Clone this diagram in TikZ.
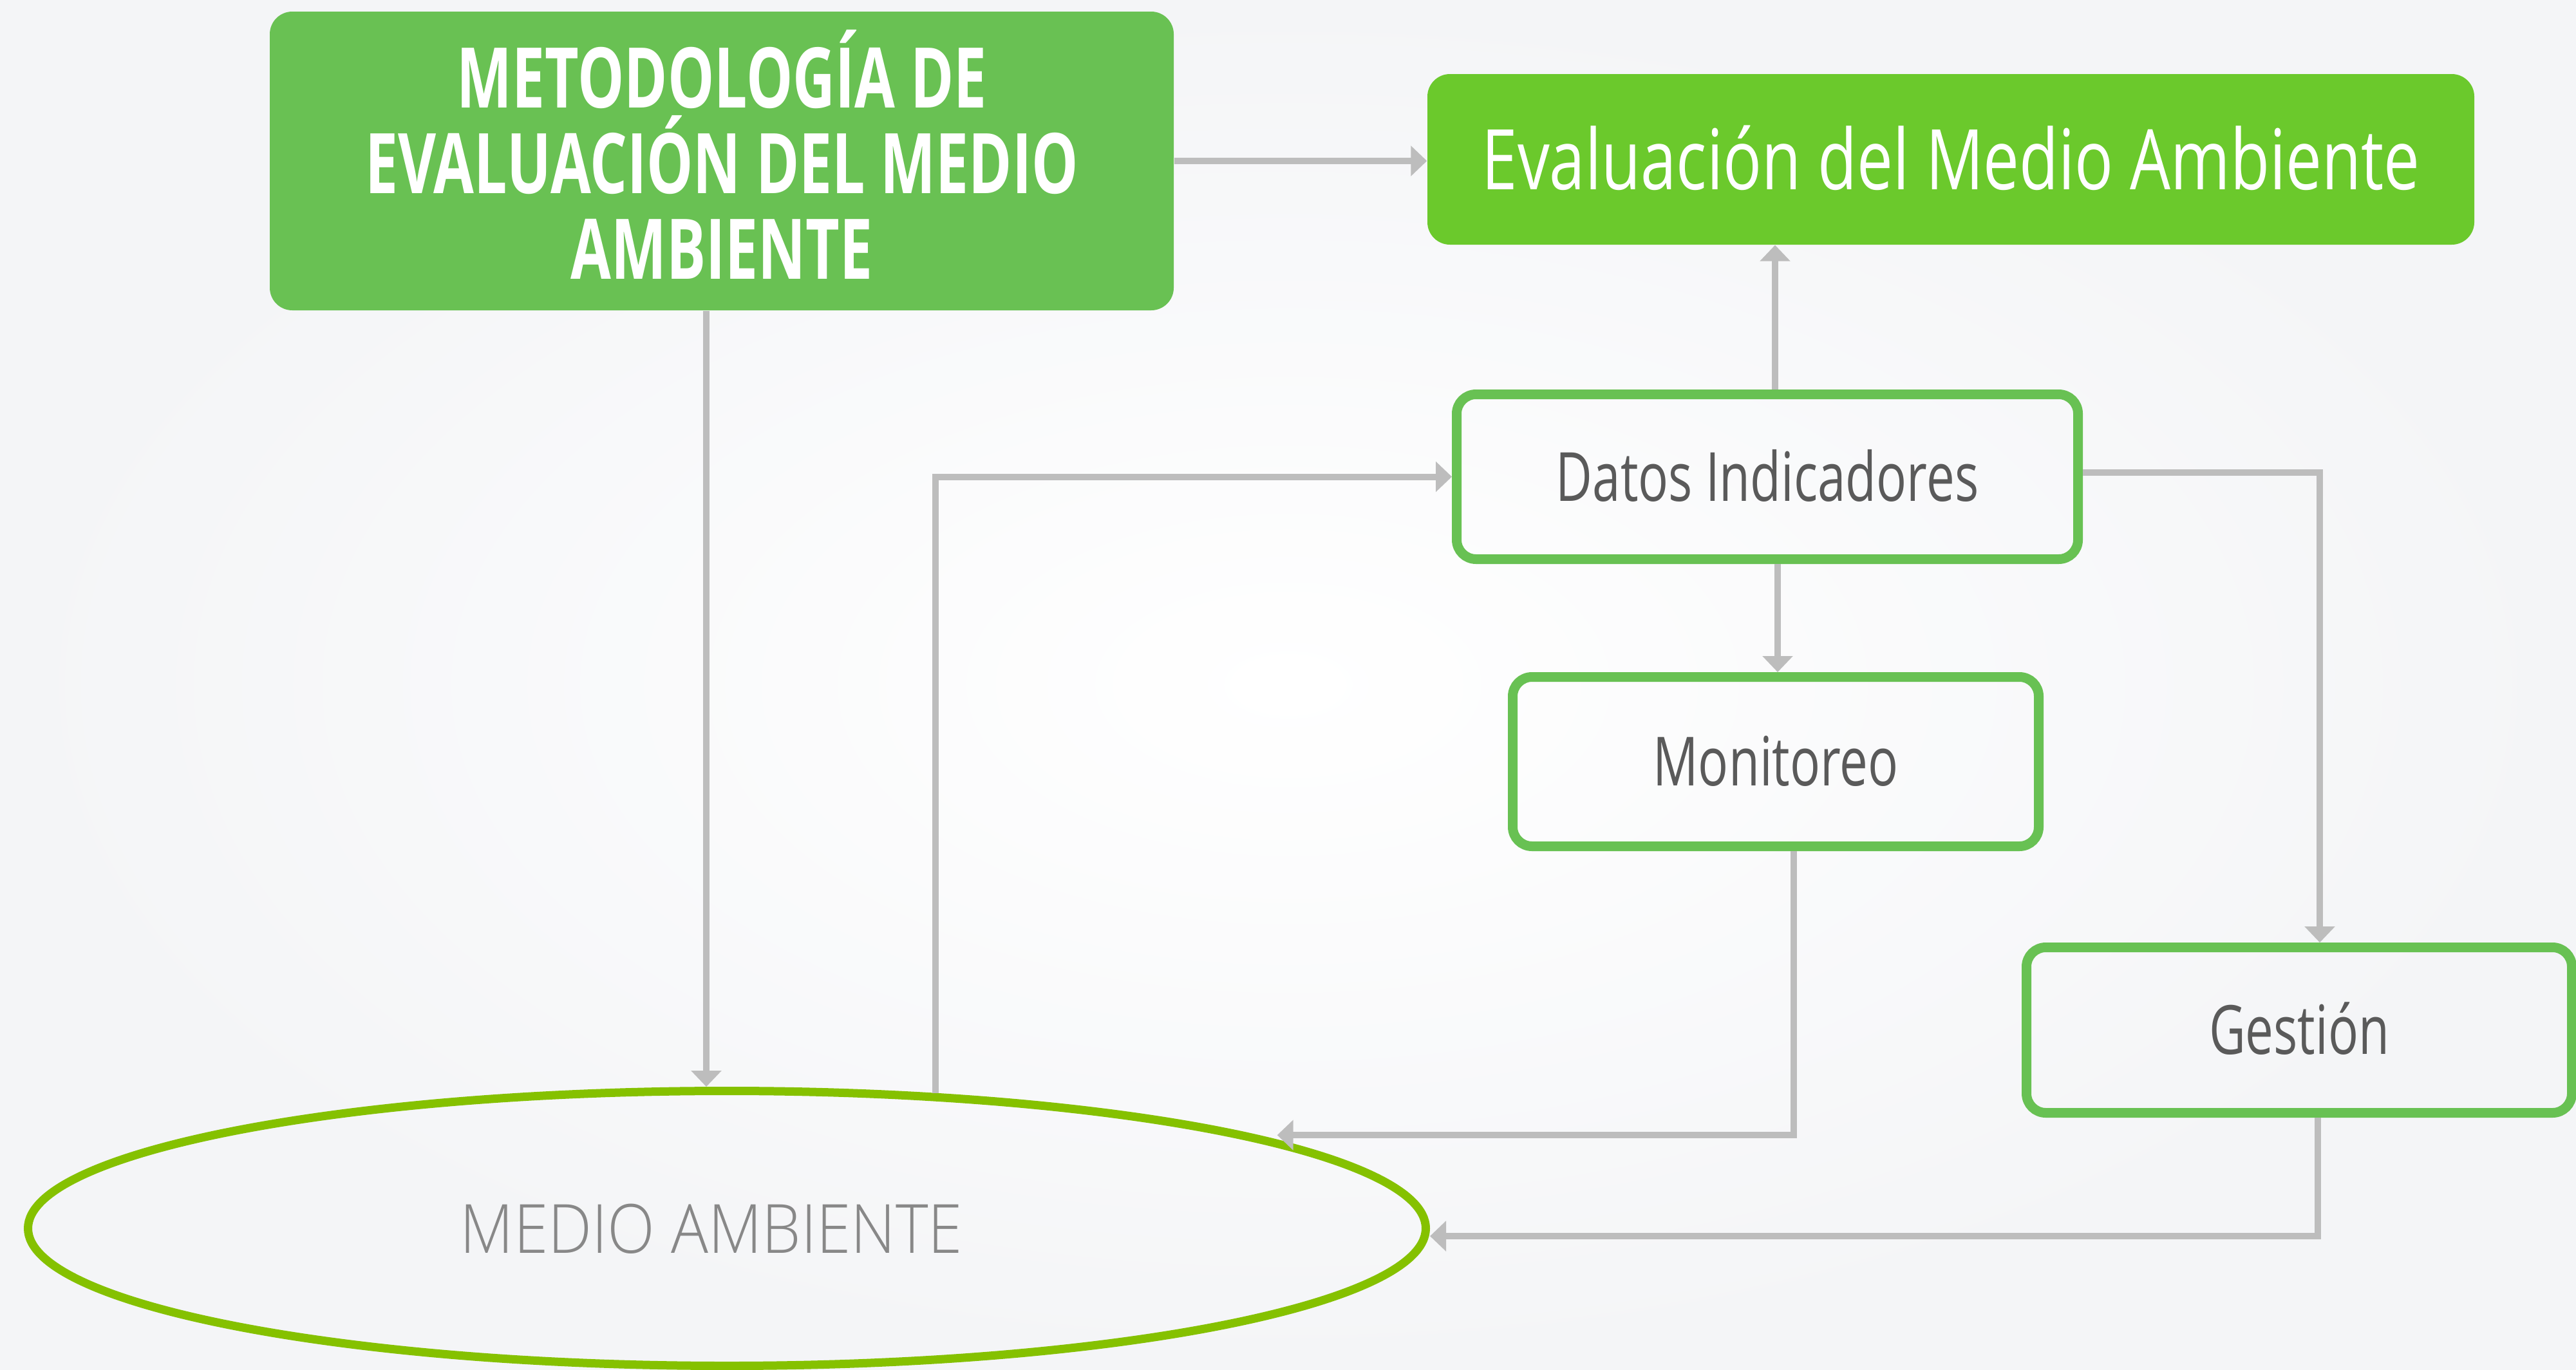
\documentclass[tikz,border=0pt]{standalone}
\usepackage{fontspec}
\setmainfont{Open Sans}
\newfontfamily\boxfont{Open Sans}[FakeStretch=0.74]
\newfontfamily\evalfont{Open Sans}[FakeStretch=0.765]
\newfontfamily\titlefont{Open Sans}[FakeStretch=0.70]
\newfontfamily\lightfont{Open Sans Light}[FakeStretch=0.915]
\usetikzlibrary{shapes.geometric,arrows.meta}

\definecolor{titlegreen}{HTML}{69C153}
\definecolor{evalgreen}{HTML}{6BC92C}
\definecolor{boxgreen}{HTML}{68C153}
\definecolor{ellgreen}{HTML}{85C100}
\definecolor{linegray}{HTML}{BDBDBD}
\definecolor{textgray}{HTML}{5A5A5A}
\definecolor{medgray}{HTML}{888888}
\definecolor{bggray}{HTML}{F4F5F7}

\begin{document}
\begin{tikzpicture}
        \tikzstyle{greenbox}=[rectangle, rounded corners=0.35cm, text=white]
        \tikzstyle{stepbox}=[rectangle, rounded corners=0.3cm, draw=boxgreen, line width=0.15cm,
            text=textgray, text height=0.75cm, text depth=0cm,
            font=\boxfont\fontsize{30pt}{36pt}\selectfont]
        \tikzstyle{link}=[draw=linegray, line width=0.1cm, -{Triangle[length=0.25cm,width=0.46cm]}]

        % fondo
        \shade[inner color=white, outer color=bggray] (0,0) rectangle (40.01,-21.27);
        \useasboundingbox (0,0) rectangle (40.01,-21.27);

        \node[greenbox, fill=titlegreen, minimum width=14.04cm, minimum height=4.64cm, align=center,
            font=\titlefont\bfseries\fontsize{37pt}{37.8pt}\selectfont] (metod) at (11.21,-2.50)
            {METODOLOGÍA DE\\EVALUACIÓN DEL MEDIO\\AMBIENTE\rule[-0.2cm]{0pt}{0pt}};
        \node[greenbox, fill=evalgreen, minimum width=16.26cm, minimum height=2.65cm,
            text height=0.93cm, text depth=0cm,
            font=\evalfont\fontsize{37pt}{44pt}\selectfont] (eval) at (30.30,-2.475)
            {Evaluación del Medio Ambiente};

        \node[stepbox, minimum width=9.65cm, minimum height=2.56cm] (datos) at (27.45,-7.405) {Datos Indicadores};
        \node[stepbox, minimum width=8.17cm, minimum height=2.63cm] (monit) at (27.58,-11.83) {Monitoreo};
        \node[stepbox, minimum width=8.47cm, minimum height=2.57cm] (gest) at (35.71,-16.00) {Gestión};

        \node[ellipse, draw=ellgreen, line width=0.13cm, minimum width=21.71cm, minimum height=4.27cm,
            text=medgray, text height=0.76cm, text depth=0cm,
            font=\lightfont\fontsize{30pt}{36pt}\selectfont] (medio) at (11.29,-19.08)
            {MEDIO AMBIENTE\hspace*{0.48cm}};

        % conectores
        \coordinate (m1) at ([xshift=-0.24cm]metod.south);
        \coordinate (d1) at ([xshift=0.12cm]datos.north);
        \coordinate (d2) at ([xshift=0.16cm]datos.south);
        \coordinate (d3) at ([yshift=0.07cm]datos.east);
        \coordinate (m2) at ([xshift=0.28cm]monit.south);
        \coordinate (g1) at ([xshift=0.32cm]gest.north);
        \coordinate (g2) at ([xshift=0.29cm]gest.south);
        \coordinate (e1) at ([yshift=-0.12cm]medio.east);

        \draw[link] (metod.east) -- (metod.east -| eval.west);
        \draw[link] (m1) -- (m1 |- medio.north);
        \draw[link] (d1) -- (d1 |- eval.south);
        \draw[link] (d2) -- (d2 |- monit.north);
        \draw[link] (medio.33) |- (datos.west);
        \draw[link, shorten >=0.33cm] (m2) |- (medio.10);
        \draw[link] (d3) -| (g1);
        \draw[link] (g2) |- (e1);
\end{tikzpicture}
\end{document}
